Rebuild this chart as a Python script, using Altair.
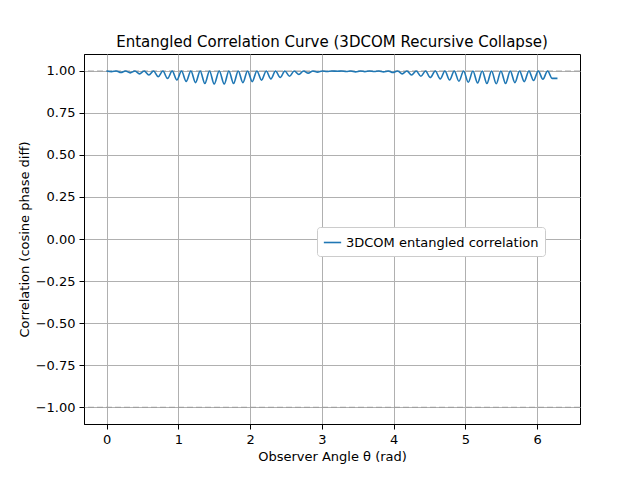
import altair as alt
import pandas as pd

trough_theta = [0.07,0.20,0.33,0.46,0.59,0.72,0.85,0.98,1.11,1.24,1.37,1.50,1.64,1.77,1.90,2.03,2.16,2.29,2.42,2.55,2.68,2.81,2.94,3.07,3.21,3.34,3.47,3.60,3.73,3.86,3.99,4.12,4.25,4.38,4.51,4.65,4.78,4.91,5.04,5.17,5.30,5.43,5.56,5.69,5.82,5.95,6.08,6.21]
trough_val = [0.995,0.99,0.988,0.982,0.975,0.965,0.955,0.945,0.937,0.93,0.925,0.922,0.922,0.925,0.93,0.936,0.944,0.952,0.96,0.968,0.978,0.986,0.992,0.996,0.997,0.996,0.994,0.995,0.996,0.994,0.99,0.982,0.975,0.968,0.96,0.952,0.945,0.938,0.932,0.928,0.925,0.923,0.925,0.93,0.936,0.942,0.95,0.955]
peak_theta = [0.0,0.135,0.265,0.395,0.525,0.655,0.785,0.915,1.045,1.175,1.305,1.435,1.57,1.705,1.835,1.965,2.095,2.225,2.355,2.485,2.615,2.745,2.875,3.005,3.14,3.275,3.405,3.535,3.665,3.795,3.925,4.055,4.185,4.315,4.445,4.58,4.715,4.845,4.975,5.105,5.235,5.365,5.495,5.625,5.755,5.885,6.015,6.145,6.283]
peak_val = [0.999]*48 + [0.955]

df = pd.DataFrame({"theta": trough_theta + peak_theta, "corr": trough_val + peak_val})
df = df.sort_values("theta")
df["series"] = "3DCOM entangled correlation"

font = "DejaVu Sans"
axis_style = dict(grid=True, gridColor="#b0b0b0", domainColor="black", tickColor="black", labelColor="black",
                  labelFont=font, titleFont=font, labelFontSize=13, titleFontSize=13,
                  titleFontWeight="normal", titleColor="black", tickSize=5, labelPadding=4)
x = alt.X("theta:Q", title="Observer Angle θ (rad)", scale=alt.Scale(domain=[-0.314, 6.597], nice=False, zero=False),
          axis=alt.Axis(values=[0,1,2,3,4,5,6], format="d", **axis_style))
y = alt.Y("corr:Q", title="Correlation (cosine phase diff)", scale=alt.Scale(domain=[-1.1, 1.1], nice=False),
          axis=alt.Axis(values=[-1,-0.75,-0.5,-0.25,0,0.25,0.5,0.75,1], format=".2f", **axis_style))

line = alt.Chart(df).mark_line(strokeWidth=1.6, interpolate="monotone").encode(
    x=x, y=y,
    color=alt.Color("series:N", title=None, scale=alt.Scale(range=["#1f77b4"]),
                    legend=alt.Legend(orient="none", legendX=233, legendY=173, fillColor="white",
                                      strokeColor="#cccccc", padding=6, cornerRadius=3,
                                      labelFontSize=13, labelFont=font, labelColor="black", labelLimit=400,
                                      symbolType="stroke", symbolStrokeWidth=1.6, symbolSize=300)))

refs = pd.DataFrame({"v": [1.0, -1.0]})
rules = alt.Chart(refs).mark_rule(color="gray", strokeDash=[6, 3], opacity=0.5).encode(y="v:Q")

chart = alt.layer(rules, line).properties(
    width=496, height=370,
    padding={"left": 10, "top": 27, "right": 10, "bottom": 5},
    title=alt.Title("Entangled Correlation Curve (3DCOM Recursive Collapse)", fontSize=15, fontWeight="normal", font=font, color="black"),
).configure_view(stroke="black")

chart.save("out.html", embed_options={"renderer": "svg", "actions": False})
